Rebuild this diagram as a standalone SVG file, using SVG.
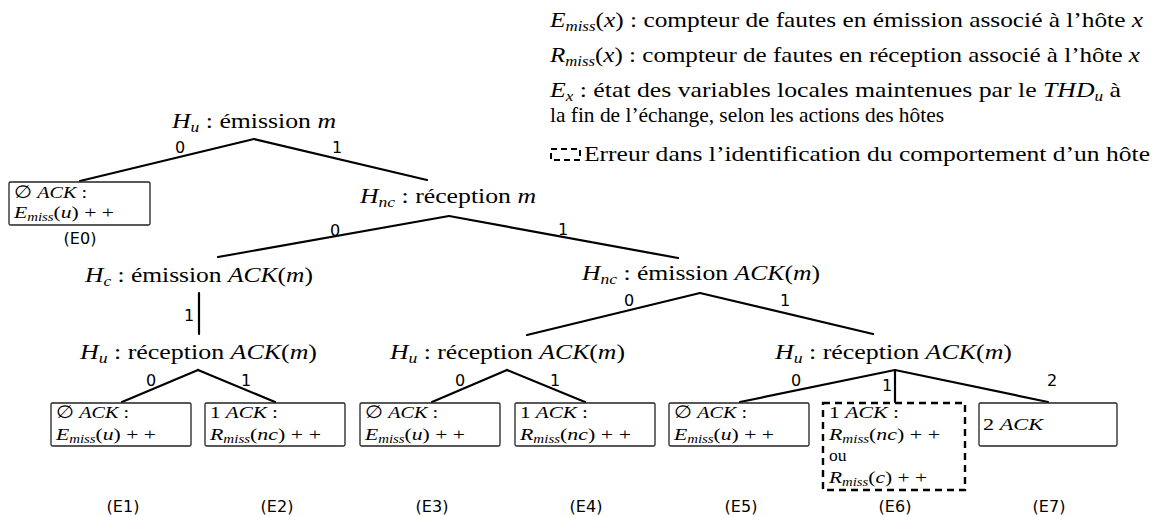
<svg xmlns="http://www.w3.org/2000/svg" width="1153" height="517" viewBox="0 0 1153 517">
<style>
.bg{fill:#fff}
.lg{font-family:"Liberation Serif","Times New Roman",serif;font-size:21px;fill:#000}
.nd{font-family:"Liberation Serif","Times New Roman",serif;font-size:22px;fill:#000}
.bx{font-family:"Liberation Serif","Times New Roman",serif;font-size:17.5px;fill:#000}
.it{font-style:italic}
.el{font-family:"DejaVu Sans",sans-serif;font-size:16px;fill:#000}
.id{font-family:"DejaVu Sans",sans-serif;font-size:16px;fill:#000;text-anchor:middle}
.edge{stroke:#000;stroke-width:2.2;fill:none;stroke-linecap:round}
.box{fill:#fff;stroke:#222;stroke-width:1.3}
.dbox{fill:#fff;stroke:#000;stroke-width:2.4;stroke-dasharray:7,5}
</style>
<rect class="bg" x="0" y="0" width="1153" height="517"/>

<g id="legend">
<text class="lg" x="550" y="27" textLength="593" lengthAdjust="spacingAndGlyphs"><tspan class="it">E</tspan><tspan class="it" font-size="14" dy="4">miss</tspan><tspan dy="-4">(</tspan><tspan class="it">x</tspan><tspan>) :  compteur de fautes en émission associé à l’hôte </tspan><tspan class="it">x</tspan></text>
<text class="lg" x="550" y="62" textLength="590" lengthAdjust="spacingAndGlyphs"><tspan class="it">R</tspan><tspan class="it" font-size="14" dy="4">miss</tspan><tspan dy="-4">(</tspan><tspan class="it">x</tspan><tspan>) :  compteur de fautes en réception associé à l’hôte </tspan><tspan class="it">x</tspan></text>
<text class="lg" x="550" y="97" textLength="571" lengthAdjust="spacingAndGlyphs"><tspan class="it">E</tspan><tspan class="it" font-size="14" dy="4">x</tspan><tspan dy="-4"> :  état des variables locales maintenues par le </tspan><tspan class="it">THD</tspan><tspan class="it" font-size="14" dy="4">u</tspan><tspan dy="-4"> à</tspan></text>
<text class="lg" x="550" y="122" textLength="394" lengthAdjust="spacingAndGlyphs">la fin de l’échange, selon les actions des hôtes</text>
<rect x="551" y="149" width="29" height="11" fill="none" stroke="#000" stroke-width="2" stroke-dasharray="6,4"/>
<text class="lg" x="584" y="161" textLength="566" lengthAdjust="spacingAndGlyphs">Erreur dans l’identification du comportement d’un hôte</text>
</g>

<g id="connectors">
<line class="edge" x1="254" y1="139" x2="80" y2="181"/>
<line class="edge" x1="254" y1="139" x2="427" y2="180"/>
<line class="edge" x1="449" y1="216" x2="218" y2="257"/>
<line class="edge" x1="449" y1="216" x2="678" y2="258"/>
<line class="edge" x1="199" y1="293" x2="199" y2="334"/>
<line class="edge" x1="198" y1="370" x2="122" y2="402"/>
<line class="edge" x1="198" y1="370" x2="275" y2="402"/>
<line class="edge" x1="700" y1="293" x2="527" y2="335"/>
<line class="edge" x1="700" y1="293" x2="873" y2="334"/>
<line class="edge" x1="507" y1="370" x2="432" y2="402"/>
<line class="edge" x1="507" y1="370" x2="585" y2="402"/>
<line class="edge" x1="895" y1="370" x2="740" y2="402"/>
<line class="edge" x1="895" y1="370" x2="895" y2="402"/>
<line class="edge" x1="895" y1="370" x2="1048" y2="402"/>
<g class="el" text-anchor="middle">
<text x="180" y="153">0</text>
<text x="337" y="153">1</text>
<text x="335" y="236">0</text>
<text x="563" y="235">1</text>
<text x="189" y="321">1</text>
<text x="151" y="386">0</text>
<text x="246" y="386">1</text>
<text x="629" y="306">0</text>
<text x="785" y="306">1</text>
<text x="460" y="386">0</text>
<text x="555" y="386">1</text>
<text x="796" y="386">0</text>
<text x="887" y="391">1</text>
<text x="1052" y="386">2</text>
</g>
</g>

<g id="n-root"><text class="nd" x="254" y="128" text-anchor="middle" textLength="164" lengthAdjust="spacingAndGlyphs"><tspan class="it">H</tspan><tspan class="it" font-size="15" dy="4">u</tspan><tspan dy="-4"> : émission </tspan><tspan class="it">m</tspan></text></g>
<g id="n-hnc-rec"><text class="nd" x="448" y="203" text-anchor="middle" textLength="176" lengthAdjust="spacingAndGlyphs"><tspan class="it">H</tspan><tspan class="it" font-size="15" dy="4">nc</tspan><tspan dy="-4"> : réception </tspan><tspan class="it">m</tspan></text></g>
<g id="n-hc-em"><text class="nd" x="199" y="282" text-anchor="middle" textLength="228" lengthAdjust="spacingAndGlyphs"><tspan class="it">H</tspan><tspan class="it" font-size="15" dy="4">c</tspan><tspan dy="-4"> : émission </tspan><tspan class="it">ACK</tspan><tspan>(</tspan><tspan class="it">m</tspan><tspan>)</tspan></text></g>
<g id="n-hu-rec1"><text class="nd" x="198.5" y="359" text-anchor="middle" textLength="237" lengthAdjust="spacingAndGlyphs"><tspan class="it">H</tspan><tspan class="it" font-size="15" dy="4">u</tspan><tspan dy="-4"> : réception </tspan><tspan class="it">ACK</tspan><tspan>(</tspan><tspan class="it">m</tspan><tspan>)</tspan></text></g>
<g id="n-hnc-em"><text class="nd" x="701" y="280" text-anchor="middle" textLength="238" lengthAdjust="spacingAndGlyphs"><tspan class="it">H</tspan><tspan class="it" font-size="15" dy="4">nc</tspan><tspan dy="-4"> : émission </tspan><tspan class="it">ACK</tspan><tspan>(</tspan><tspan class="it">m</tspan><tspan>)</tspan></text></g>
<g id="n-hu-rec2"><text class="nd" x="507.5" y="359" text-anchor="middle" textLength="235" lengthAdjust="spacingAndGlyphs"><tspan class="it">H</tspan><tspan class="it" font-size="15" dy="4">u</tspan><tspan dy="-4"> : réception </tspan><tspan class="it">ACK</tspan><tspan>(</tspan><tspan class="it">m</tspan><tspan>)</tspan></text></g>
<g id="n-hu-rec3"><text class="nd" x="893.5" y="359" text-anchor="middle" textLength="237" lengthAdjust="spacingAndGlyphs"><tspan class="it">H</tspan><tspan class="it" font-size="15" dy="4">u</tspan><tspan dy="-4"> : réception </tspan><tspan class="it">ACK</tspan><tspan>(</tspan><tspan class="it">m</tspan><tspan>)</tspan></text></g>

<g id="E0">
<rect class="box" x="9" y="182" width="141" height="43" rx="1.5"/>
<text class="bx" x="14" y="198" textLength="73" lengthAdjust="spacingAndGlyphs">∅ <tspan class="it">ACK</tspan> :</text>
<text class="bx" x="14" y="218" textLength="100" lengthAdjust="spacingAndGlyphs"><tspan class="it">E</tspan><tspan class="it" font-size="12" dy="3">miss</tspan><tspan dy="-3">(</tspan><tspan class="it">u</tspan>) + +</text>
<text class="id" x="80" y="244">(E0)</text>
</g>
<g id="E1">
<rect class="box" x="51" y="403" width="140" height="43" rx="1.5"/>
<text class="bx" x="56" y="418" textLength="73" lengthAdjust="spacingAndGlyphs">∅ <tspan class="it">ACK</tspan> :</text>
<text class="bx" x="56" y="440" textLength="100" lengthAdjust="spacingAndGlyphs"><tspan class="it">E</tspan><tspan class="it" font-size="12" dy="3">miss</tspan><tspan dy="-3">(</tspan><tspan class="it">u</tspan>) + +</text>
<text class="id" x="123" y="512">(E1)</text>
</g>
<g id="E2">
<rect class="box" x="205" y="403" width="140" height="43" rx="1.5"/>
<text class="bx" x="210" y="418" textLength="68" lengthAdjust="spacingAndGlyphs">1 <tspan class="it">ACK</tspan> :</text>
<text class="bx" x="210" y="440" textLength="111" lengthAdjust="spacingAndGlyphs"><tspan class="it">R</tspan><tspan class="it" font-size="12" dy="3">miss</tspan><tspan dy="-3">(</tspan><tspan class="it">nc</tspan>) + +</text>
<text class="id" x="277" y="512">(E2)</text>
</g>
<g id="E3">
<rect class="box" x="360" y="403" width="140" height="43" rx="1.5"/>
<text class="bx" x="365" y="418" textLength="73" lengthAdjust="spacingAndGlyphs">∅ <tspan class="it">ACK</tspan> :</text>
<text class="bx" x="365" y="440" textLength="100" lengthAdjust="spacingAndGlyphs"><tspan class="it">E</tspan><tspan class="it" font-size="12" dy="3">miss</tspan><tspan dy="-3">(</tspan><tspan class="it">u</tspan>) + +</text>
<text class="id" x="432" y="512">(E3)</text>
</g>
<g id="E4">
<rect class="box" x="515" y="403" width="140" height="43" rx="1.5"/>
<text class="bx" x="520" y="418" textLength="68" lengthAdjust="spacingAndGlyphs">1 <tspan class="it">ACK</tspan> :</text>
<text class="bx" x="520" y="440" textLength="111" lengthAdjust="spacingAndGlyphs"><tspan class="it">R</tspan><tspan class="it" font-size="12" dy="3">miss</tspan><tspan dy="-3">(</tspan><tspan class="it">nc</tspan>) + +</text>
<text class="id" x="586" y="512">(E4)</text>
</g>
<g id="E5">
<rect class="box" x="669" y="403" width="140" height="43" rx="1.5"/>
<text class="bx" x="674" y="418" textLength="73" lengthAdjust="spacingAndGlyphs">∅ <tspan class="it">ACK</tspan> :</text>
<text class="bx" x="674" y="440" textLength="100" lengthAdjust="spacingAndGlyphs"><tspan class="it">E</tspan><tspan class="it" font-size="12" dy="3">miss</tspan><tspan dy="-3">(</tspan><tspan class="it">u</tspan>) + +</text>
<text class="id" x="741" y="512">(E5)</text>
</g>
<g id="E6">
<rect class="dbox" x="823" y="403" width="142" height="87"/>
<text class="bx" x="829" y="418" textLength="70" lengthAdjust="spacingAndGlyphs">1 <tspan class="it">ACK</tspan> :</text>
<text class="bx" x="829" y="440" textLength="111" lengthAdjust="spacingAndGlyphs"><tspan class="it">R</tspan><tspan class="it" font-size="12" dy="3">miss</tspan><tspan dy="-3">(</tspan><tspan class="it">nc</tspan>) + +</text>
<text class="bx" x="829" y="461">ou</text>
<text class="bx" x="829" y="483" textLength="98" lengthAdjust="spacingAndGlyphs"><tspan class="it">R</tspan><tspan class="it" font-size="12" dy="3">miss</tspan><tspan dy="-3">(</tspan><tspan class="it">c</tspan>) + +</text>
<text class="id" x="895" y="512">(E6)</text>
</g>
<g id="E7">
<rect class="box" x="979" y="403" width="138" height="43" rx="1.5"/>
<text class="bx" x="983" y="430" textLength="60" lengthAdjust="spacingAndGlyphs">2 <tspan class="it">ACK</tspan></text>
<text class="id" x="1049" y="512">(E7)</text>
</g>
</svg>
